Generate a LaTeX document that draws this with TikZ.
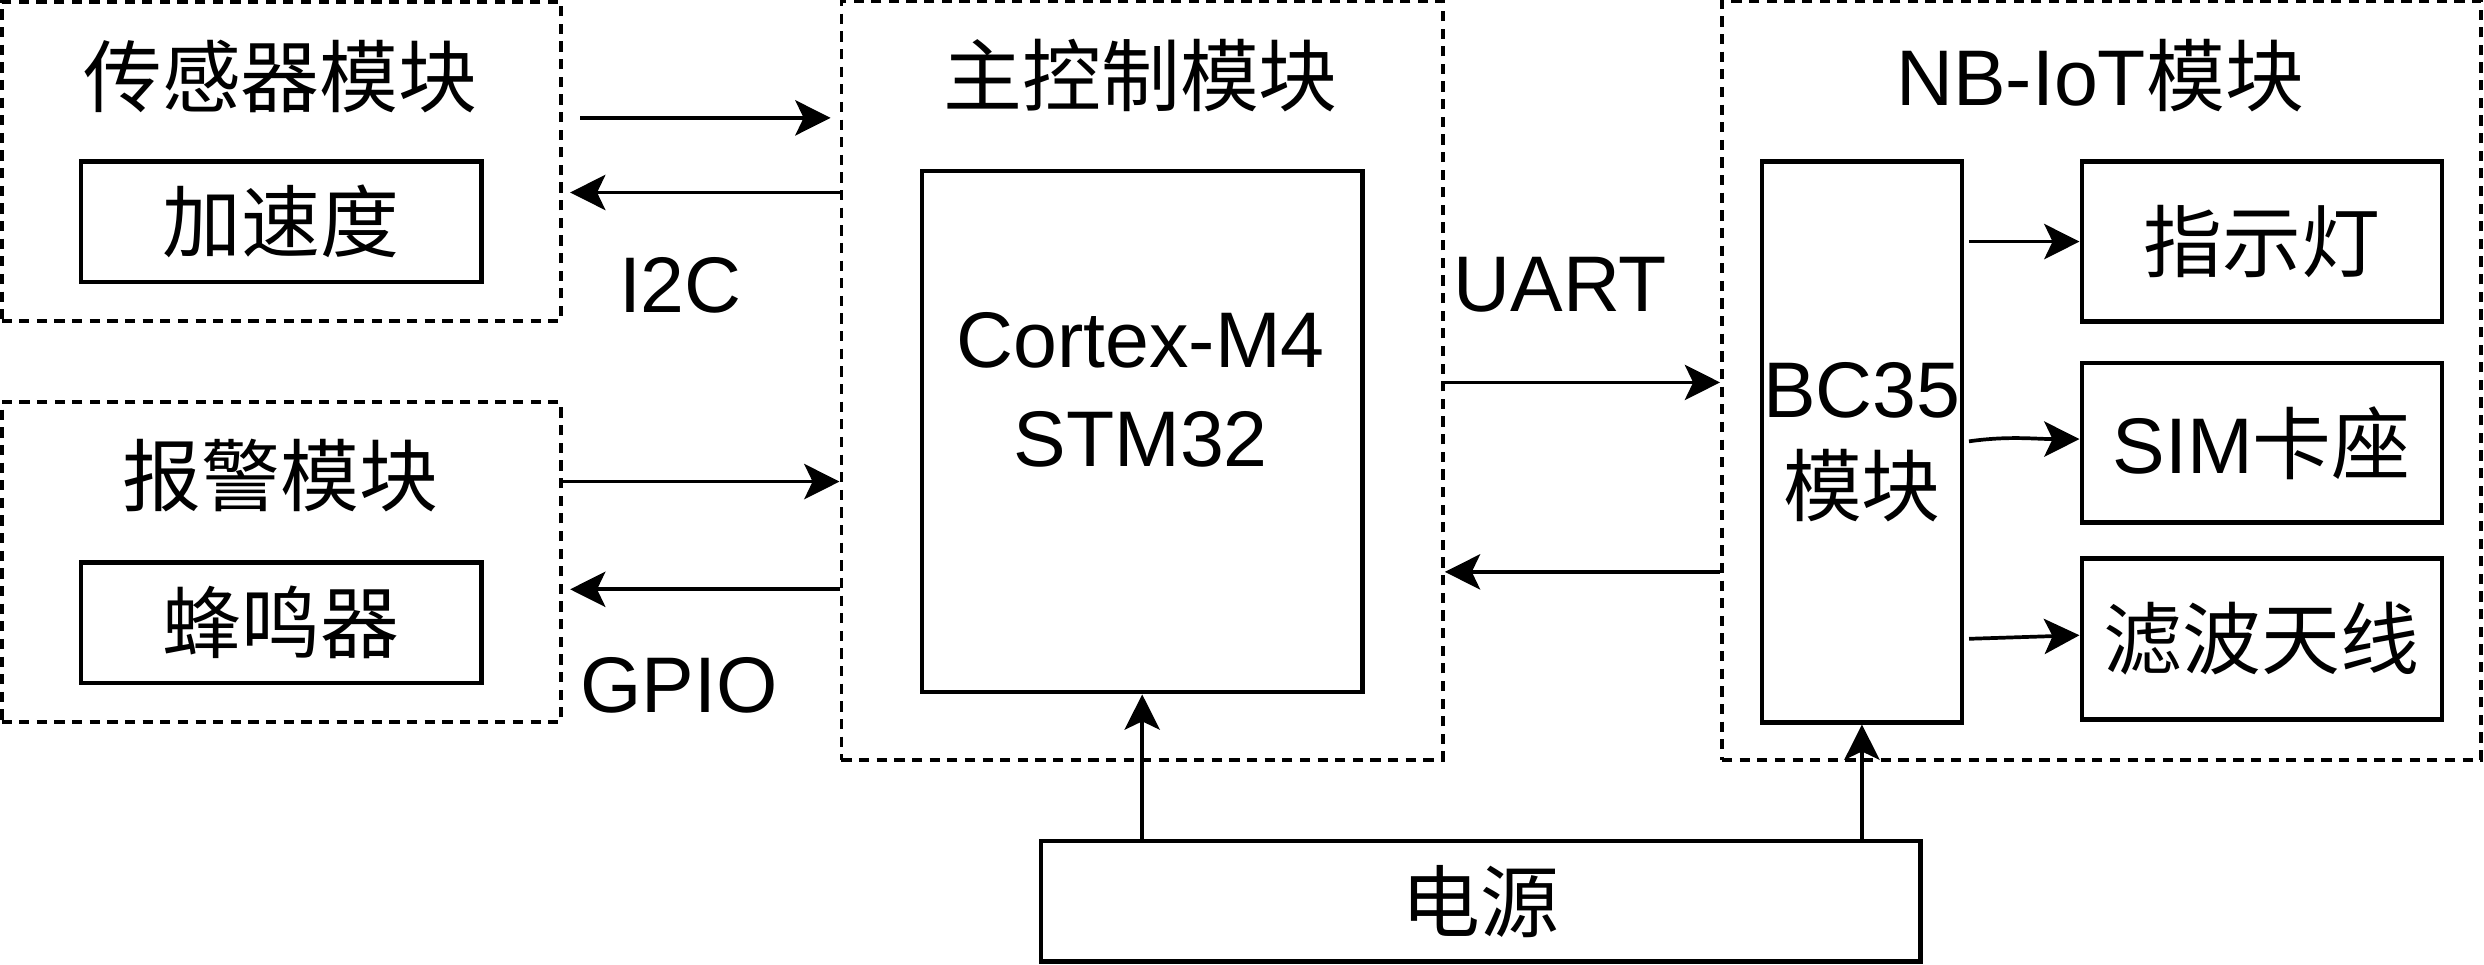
\documentclass[tikz,border=0pt]{standalone}
\usepackage{fontspec}
\setmainfont{Liberation Sans}
\newfontfamily\cjk{Noto Sans CJK SC}
\usepackage{tikz}
\usetikzlibrary{arrows.meta, positioning}

\begin{document}
\begin{tikzpicture}[
    line width=2pt,
    every node/.style={font=\fontsize{42.5}{53}\selectfont},
    module/.style={rectangle, draw, line width=2.1pt, dash pattern=on 5.5pt off 4pt, inner sep=0pt},
    block/.style={rectangle, draw, line width=2.3pt, inner sep=0pt, align=center},
    title/.style={inner sep=0pt, align=center},
    arrow/.style={-{Stealth[length=19pt, width=19pt, inset=4.5pt]}}
]
    \useasboundingbox (0,0) rectangle (47.04,-18.27);

    % dashed modules
    \node[module, minimum width=10.59cm, minimum height=6.05cm] (sensor) at (5.325,-3.055) {};
    \node[module, minimum width=10.59cm, minimum height=6.06cm] (alarm) at (5.325,-10.65) {};
    \node[module, minimum width=11.39cm, minimum height=14.37cm] (main) at (21.63,-7.2) {};
    \node[module, minimum width=14.37cm, minimum height=14.37cm] (nbiot) at (39.795,-7.2) {};

    \node[title] (sensortitle) at (5.31,-1.44) {\cjk 传感器模块};
    \node[title] (alarmtitle) at (5.31,-9.0) {\cjk 报警模块};
    \node[title] (maintitle) at (21.6,-1.44) {\cjk 主控制模块};
    \node[title] (nbtitle) at (39.77,-1.44) {NB-IoT{\cjk 模块}};

    % blocks
    \node[block, minimum width=7.59cm, minimum height=2.28cm] (accel) at (5.325,-4.2) {\cjk 加速度};
    \node[block, minimum width=7.59cm, minimum height=2.28cm] (buzzer) at (5.325,-11.79) {\cjk 蜂鸣器};
    \node[block, minimum width=8.34cm, minimum height=9.87cm] (cortex) at (21.63,-8.175) {};
    \node[title] (mcu) at (21.6,-7.38) {Cortex-M4\\STM32};
    \node[block, minimum width=3.795cm, minimum height=10.62cm] (bc35) at (35.26,-8.37) {BC35\\{\cjk 模块}};
    \node[block, minimum width=6.82cm, minimum height=3.03cm] (led) at (42.83,-4.575) {\cjk 指示灯};
    \node[block, minimum width=6.82cm, minimum height=3.015cm] (sim) at (42.83,-8.385) {SIM{\cjk 卡座}};
    \node[block, minimum width=6.82cm, minimum height=3.05cm] (antenna) at (42.83,-12.1) {\cjk 滤波天线};
    \node[block, minimum width=16.66cm, minimum height=2.28cm] (power) at (28.04,-17.07) {\cjk 电源};

    % bus labels
    \node[title] (i2c) at (12.885,-5.4) {I2C};
    \node[title] (gpio) at (12.855,-12.975) {GPIO};
    \node[title] (uart) at (29.55,-5.4) {UART};

    % connections
    \draw[arrow, shorten <=0.33cm, shorten >=0.17cm] (sensor.east |- 0,-2.232) -- (main.west |- 0,-2.232);
    \draw[arrow, shorten >=0.14cm] (main.west |- 0,-3.645) -- (sensor.east |- 0,-3.645);
    \draw[arrow] (alarm.east |- 0,-9.12) -- (main.west |- 0,-9.12);
    \draw[arrow, shorten >=0.14cm] (main.west |- 0,-11.16) -- (alarm.east |- 0,-11.16);
    \draw[arrow] (main.east |- 0,-7.242) -- (nbiot.west |- 0,-7.242);
    \draw[arrow] (nbiot.west |- 0,-10.83) -- (main.east |- 0,-10.83);

    \draw[arrow, shorten <=0.09cm] (bc35.east |- led.west) -- (led.west);
    \draw[arrow, shorten <=0.09cm] (bc35.east) to[out=8, in=180] ([yshift=0.07cm]sim.west);
    \draw[arrow, shorten <=0.09cm] (bc35.east |- antenna.west) -- ([yshift=0.07cm]antenna.west);

    \draw[arrow] (power.north -| cortex.south) -- (cortex.south);
    \draw[arrow] (power.north -| bc35.south) -- (bc35.south);
\end{tikzpicture}
\end{document}
